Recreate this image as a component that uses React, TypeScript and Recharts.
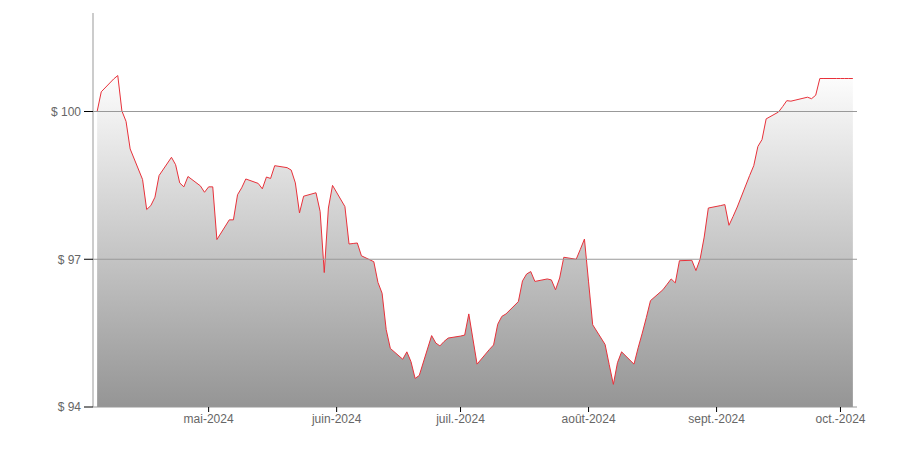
import React from 'react';
import { AreaChart, Area, XAxis, YAxis, ReferenceLine } from 'recharts';

// Trading days shown on the chart (2024)
const dates = [
  '2024-04-04', '2024-04-05', '2024-04-08', '2024-04-09', '2024-04-10', '2024-04-11', '2024-04-12',
  '2024-04-15', '2024-04-16', '2024-04-17', '2024-04-18', '2024-04-19',
  '2024-04-22', '2024-04-23', '2024-04-24', '2024-04-25', '2024-04-26',
  '2024-04-29', '2024-04-30', '2024-05-01', '2024-05-02', '2024-05-03',
  '2024-05-06', '2024-05-07', '2024-05-08', '2024-05-09', '2024-05-10',
  '2024-05-13', '2024-05-14', '2024-05-15', '2024-05-16', '2024-05-17',
  '2024-05-20', '2024-05-21', '2024-05-22', '2024-05-23', '2024-05-24',
  '2024-05-27', '2024-05-28', '2024-05-29', '2024-05-30', '2024-05-31',
  '2024-06-03', '2024-06-04', '2024-06-05', '2024-06-06', '2024-06-07',
  '2024-06-10', '2024-06-11', '2024-06-12', '2024-06-13', '2024-06-14',
  '2024-06-17', '2024-06-18', '2024-06-19', '2024-06-20', '2024-06-21',
  '2024-06-24', '2024-06-25', '2024-06-26', '2024-06-27', '2024-06-28',
  '2024-07-01', '2024-07-02', '2024-07-03', '2024-07-04', '2024-07-05',
  '2024-07-08', '2024-07-09', '2024-07-10', '2024-07-11', '2024-07-12',
  '2024-07-15', '2024-07-16', '2024-07-17', '2024-07-18', '2024-07-19',
  '2024-07-22', '2024-07-23', '2024-07-24', '2024-07-25', '2024-07-26',
  '2024-07-29', '2024-07-30', '2024-07-31', '2024-08-01', '2024-08-02',
  '2024-08-05', '2024-08-06', '2024-08-07', '2024-08-08', '2024-08-09',
  '2024-08-12', '2024-08-13', '2024-08-14', '2024-08-15', '2024-08-16',
  '2024-08-19', '2024-08-20', '2024-08-21', '2024-08-22', '2024-08-23',
  '2024-08-26', '2024-08-27', '2024-08-28', '2024-08-29', '2024-08-30',
  '2024-09-02', '2024-09-03', '2024-09-04', '2024-09-05', '2024-09-06',
  '2024-09-09', '2024-09-10', '2024-09-11', '2024-09-12', '2024-09-13',
  '2024-09-16', '2024-09-17', '2024-09-18', '2024-09-19', '2024-09-20',
  '2024-09-23', '2024-09-24', '2024-09-25', '2024-09-26', '2024-09-27',
  '2024-09-30', '2024-10-01', '2024-10-02', '2024-10-03', '2024-10-04',
];

// Price in $
const prices = [
  100.0, 100.4, 100.66, 100.73, 100.01, 99.8, 99.24,
  98.62, 98.01, 98.09, 98.26, 98.7,
  99.07, 98.92, 98.55, 98.47, 98.68,
  98.49, 98.36, 98.47, 98.47, 97.4,
  97.8, 97.8, 98.31, 98.45, 98.63,
  98.54, 98.43, 98.67, 98.64, 98.9,
  98.86, 98.81, 98.55, 97.94, 98.28,
  98.35, 97.97, 96.73, 98.04, 98.5,
  98.07, 97.31, 97.32, 97.33, 97.07,
  96.95, 96.53, 96.31, 95.57, 95.19,
  94.97, 95.12, 94.92, 94.58, 94.64,
  95.45, 95.3, 95.24, 95.33, 95.4,
  95.44, 95.46, 95.89, 95.38, 94.87,
  95.17, 95.26, 95.68, 95.84, 95.89,
  96.14, 96.56, 96.7, 96.75, 96.55,
  96.6, 96.58, 96.38, 96.62, 97.04,
  97.0, 97.2, 97.41, 96.54, 95.67,
  95.27, 94.86, 94.46, 94.9, 95.12,
  94.87, 95.2, 95.5, 95.82, 96.16,
  96.38, 96.49, 96.6, 96.52, 96.97,
  96.98, 96.77, 97.0, 97.45, 98.04,
  98.09, 98.11, 97.69, 97.87, 98.06,
  98.7, 98.9, 99.29, 99.43, 99.85,
  99.99, 100.1, 100.22, 100.21, 100.23,
  100.29, 100.26, 100.33, 100.67, 100.67,
  100.67, 100.67, 100.67, 100.67, 100.67,
];

const tickDates = ['2024-05-01', '2024-06-01', '2024-07-01', '2024-08-01', '2024-09-01', '2024-10-01'];
const tickLabels = ['mai-2024', 'juin-2024', 'juil.-2024', 'août-2024', 'sept.-2024', 'oct.-2024'];
const priceTicks = [94, 97, 100];
const gridValues = [97, 100];

const toTime = (d: string) => Date.parse(d + 'T00:00:00Z');

const chartData = dates.map((d, i) => ({ t: toTime(d), price: prices[i] }));
const xTicks = tickDates.map(toTime);
const xDomain = [toTime('2024-04-03'), toTime('2024-10-05')];

const font = '"Liberation Sans", Arial, sans-serif';

export default function App() {
  const formatDate = (t: number) => {
    const i = xTicks.indexOf(t);
    return i >= 0 ? tickLabels[i] : '';
  };

  return (
    <div style={{ width: 884, height: 434, fontFamily: font }}>
      <AreaChart width={884} height={434} data={chartData} margin={{ top: 5, right: 35, bottom: 5, left: 0 }}>
        <defs>
          <linearGradient id="priceFill" x1="0" y1="0" x2="0" y2="1">
            <stop offset="0%" stopColor="#fdfdfd" />
            <stop offset="100%" stopColor="#959595" />
          </linearGradient>
        </defs>
        <XAxis
          dataKey="t"
          type="number"
          scale="time"
          domain={xDomain}
          ticks={xTicks}
          tickFormatter={formatDate}
          height={30}
          tickSize={5}
          tickMargin={2}
          axisLine={{ stroke: '#999' }}
          tickLine={{ stroke: '#000' }}
          tick={{ fill: '#666', fontSize: 12, fontFamily: font }}
        />
        <YAxis
          type="number"
          domain={[94, 102]}
          ticks={priceTicks}
          tickFormatter={(v: number) => `$ ${v}`}
          width={85}
          tickSize={9}
          tickMargin={3}
          axisLine={{ stroke: '#999' }}
          tickLine={{ stroke: '#000' }}
          tick={{ fill: '#666', fontSize: 12, fontFamily: font }}
        />
        <Area
          type="linear"
          dataKey="price"
          stroke="#e8313a"
          strokeWidth={1}
          fill="url(#priceFill)"
          fillOpacity={1}
          dot={false}
          activeDot={false}
          isAnimationActive={false}
        />
        {gridValues.map((v) => (
          <ReferenceLine key={v} y={v} stroke="#999" strokeWidth={1} />
        ))}
      </AreaChart>
    </div>
  );
}
